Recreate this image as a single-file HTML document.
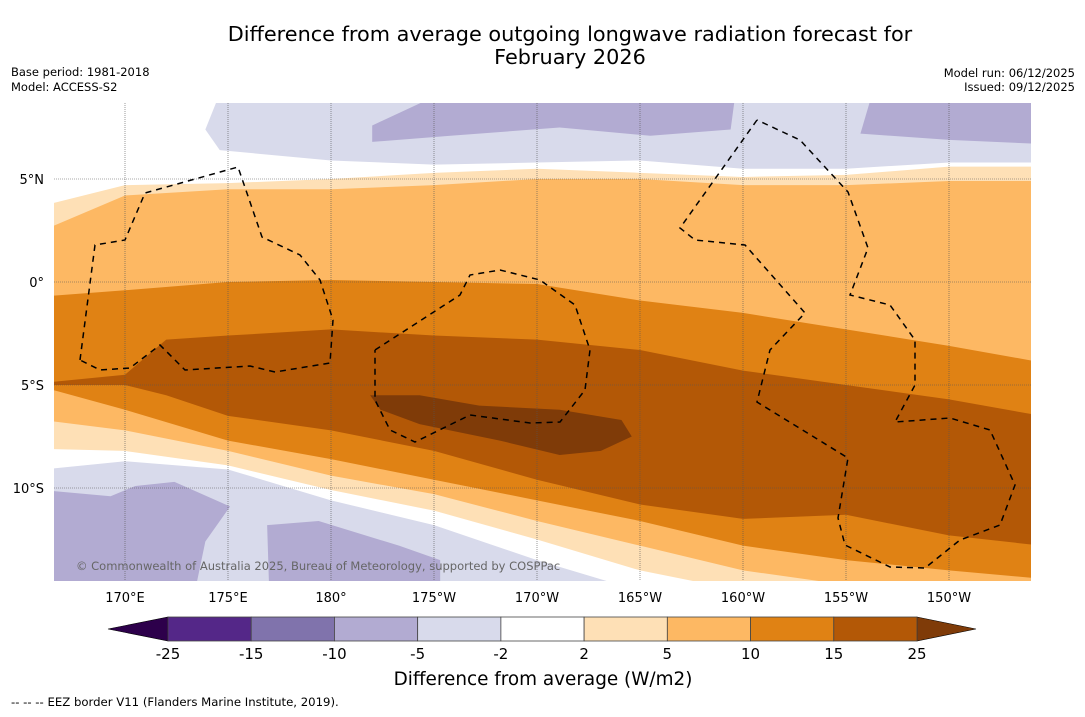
<!DOCTYPE html>
<html><head><meta charset="utf-8">
<style>
body{margin:0;background:#fff;width:1085px;height:713px;overflow:hidden;font-family:"DejaVu Sans","Liberation Sans",sans-serif;}
svg text{font-family:"DejaVu Sans","Liberation Sans",sans-serif;}
</style></head><body>
<svg id="chart" width="1085" height="713" xmlns="http://www.w3.org/2000/svg">
<text x="570" y="41" font-size="20.8" text-anchor="middle">Difference from average outgoing longwave radiation forecast for</text>
<text x="570" y="64" font-size="20.8" text-anchor="middle">February 2026</text>
<text x="11" y="76" font-size="11.5">Base period: 1981-2018</text>
<text x="11" y="91" font-size="11.5">Model: ACCESS-S2</text>
<text x="1075" y="77" font-size="11.5" text-anchor="end">Model run: 06/12/2025</text>
<text x="1075" y="91" font-size="11.5" text-anchor="end">Issued: 09/12/2025</text>
<defs><clipPath id="plotclip"><rect x="54" y="103" width="977" height="478"/></clipPath></defs>
<g id="plot" clip-path="url(#plotclip)">
<rect x="54" y="103" width="977" height="478" fill="#fff"/>
</g>
<g id="grid"></g>
<g id="eez" clip-path="url(#plotclip)" fill="none" stroke="#000" stroke-width="1.5" stroke-dasharray="6,5"></g>
<text x="76" y="570" font-size="11.5" fill="#666">© Commonwealth of Australia 2025, Bureau of Meteorology, supported by COSPPac</text>
<g id="xaxis"></g>
<g id="yaxis"></g>
<g id="cbar"></g>
<text x="543" y="685" font-size="18.4" text-anchor="middle">Difference from average (W/m2)</text>
<text x="11" y="706" font-size="11.7">--  --  -- EEZ border V11 (Flanders Marine Institute, 2019).</text>
</svg>
<script>
const lons = [166.5,170,175,180,185,190,195,200,205,210,214];
const lonsB = [166.5,170,172,175,180,185,190,195,200,205,210,214];
const lonsTop = [174.6,180,185,190,195,200,205,210,214];
const lavTopBottom = [6.4,5.9,5.7,5.8,5.9,5.5,5.5,5.8,5.8];
const peachTop = [3.7,4.7,4.8,5.0,5.3,5.5,5.3,5.1,5.2,5.6,5.6];
const orangeTop = [2.5,4.2,4.5,4.5,4.7,5.0,5.0,4.7,4.7,4.9,4.9];
const darkTop = [-0.7,-0.4,0,0.1,0,-0.1,-0.9,-1.5,-2.3,-3.1,-3.9];
const brownTop = [-4.9,-4.5,-2.8,-2.6,-2.3,-2.6,-2.8,-3.3,-4.3,-5.0,-5.7,-6.5];
const brownBottom = [-5.0,-5.0,-5.5,-6.5,-7.2,-8.2,-9.6,-10.8,-11.5,-11.3,-12.3,-12.8];
const darkBottom = [-5.1,-6.2,-7.7,-8.6,-9.6,-10.6,-11.6,-12.8,-13.5,-14.0,-14.4];
const orangeBottom = [-6.7,-7.2,-8.2,-9.4,-10.3,-11.6,-12.8,-14.0,-14.7,-15,-15];
const peachBottom = [-8.1,-8.2,-8.9,-10.1,-11.1,-12.5,-14.0,-15,-15,-15,-15];
const lavBottomTop = [-9.1,-8.7,-9.1,-10.6,-11.8,-13.5,-15,-15,-15,-15,-15];
const deepBlob = [[181.9,-5.5],[182.4,-6.2],[184.3,-6.9],[188.2,-7.7],[191.1,-8.4],[193.1,-8.2],[194.6,-7.5],[194.1,-6.7],[191.1,-6.2],[187.2,-6.0],[184.3,-5.5]];
const lavDarkA = [[182.0,7.6],[184.8,8.9],[199.6,8.9],[199.4,7.4],[195.5,7.1],[191.1,7.5],[185.8,7.1],[182.0,6.8]];
const lavDarkB = [[206.2,8.9],[214.5,8.9],[214.5,6.7],[210.0,6.9],[205.7,7.2]];
const lavDarkC = [[166.0,-10.1],[169.3,-10.4],[170.5,-9.9],[172.4,-9.7],[175.1,-10.9],[173.9,-12.6],[173.4,-15],[166.0,-15]];
const lavDarkD = [[176.9,-11.8],[179.4,-11.6],[183.3,-12.8],[185.3,-13.5],[185.3,-15],[177.0,-15]];
const xTicks = [170,175,180,185,190,195,200,205,210];
const xTickLabels = ["170°E","175°E","180°","175°W","170°W","165°W","160°W","155°W","150°W"];
const yTicks = [5,0,-5,-10];
const yTickLabels = ["5°N","0°","5°S","10°S"];
const levels = ["-25","-15","-10","-5","-2","2","5","10","15","25"];
const levelColors = ["#542788","#8073ac","#b2abd2","#d8daeb","#ffffff","#fee0b6","#fdb863","#e08214","#b35806"];

const NS="http://www.w3.org/2000/svg";
const X = lon => 125 + (lon-170)*20.6;
const Y = lat => 282 - lat*20.6;
function mk(tag, attrs, parent){const e=document.createElementNS(NS,tag);for(const k in attrs)e.setAttribute(k,attrs[k]);parent.appendChild(e);return e;}
const plot=document.getElementById('plot');
function band(lx, top, bot, color, name, lxb){
  lxb = lxb||lx;
  let pts = lx.map((l,i)=>X(l)+','+Y(top[i]));
  for(let i=lxb.length-1;i>=0;i--) pts.push(X(lxb[i])+','+Y(bot[i]));
  const p=mk('polygon',{points:pts.join(' '),fill:color},plot);
  
  
}
function poly(arr,color,name){
  const p=mk('polygon',{points:arr.map(a=>X(a[0])+','+Y(a[1])).join(' '),fill:color},plot);
  
  
}
{
  let pts=[[174.5,8.9],[214.5,8.9]];
  const arr=pts.concat(lonsTop.slice().reverse().map((l,i)=>[l,lavTopBottom[lavTopBottom.length-1-i]])).concat([[173.9,7.4]]);
  arr[2][0]=214.5;
  poly(arr,"#d8daeb","band-minus5-minus2-north");
}
poly(lavDarkA,"#b2abd2","band-minus10-minus5-a");
poly(lavDarkB,"#b2abd2","band-minus10-minus5-b");
{
  const top=lavBottomTop; const bot=lons.map(()=>-15);
  const lx=lons.slice(); lx[0]=166; lx[lx.length-1]=214.5;
  band(lx,top,bot,"#d8daeb","band-minus5-minus2-south");
}
poly(lavDarkC,"#b2abd2","band-minus10-minus5-c");
poly(lavDarkD,"#b2abd2","band-minus10-minus5-d");
const lxw=lons.slice(); lxw[0]=166; lxw[lxw.length-1]=214.5;
const lxbw=lonsB.slice(); lxbw[0]=166; lxbw[lxbw.length-1]=214.5;
band(lxw,peachTop,peachBottom,"#fee0b6","band-2-5");
band(lxw,orangeTop,orangeBottom,"#fdb863","band-5-10");
band(lxw,darkTop,darkBottom,"#e08214","band-10-15");
band(lxbw,brownTop,brownBottom,"#b35806","band-15-25");
poly(deepBlob,"#7f3b08","band-above-25");

const grid=document.getElementById('grid');
xTicks.forEach((t,i)=>{
  const l=mk('line',{x1:X(t),x2:X(t),y1:103,y2:581,stroke:"#555","stroke-width":0.6,"stroke-dasharray":"1,1"},grid);
  
  
  const tx=mk('text',{x:X(t),y:602,"font-size":13,"text-anchor":"middle"},document.getElementById('xaxis'));
  tx.textContent=xTickLabels[i];
  
  
});
yTicks.forEach((t,i)=>{
  const l=mk('line',{x1:54,x2:1031,y1:Y(t),y2:Y(t),stroke:"#555","stroke-width":0.6,"stroke-dasharray":"1,1"},grid);
  
  
  const tx=mk('text',{x:44,y:Y(t)+5,"font-size":13,"text-anchor":"end"},document.getElementById('yaxis'));
  tx.textContent=yTickLabels[i];
  
  
});
const eez=document.getElementById('eez');
const eezLines=[
 "80,360 95,245 125,240 145,193 238,167 262,237 300,255 320,280 333,320 330,363 275,372 250,366 185,370 160,345 130,368 100,370 80,360",
 "375,350 460,295 470,275 500,270 540,280 575,305 590,350 585,390 560,422 530,423 470,415 415,442 390,430 375,400 375,350",
 "757,120 680,228 695,240 745,245 805,313 770,350 757,402 848,458 838,518 845,545 890,567 925,568 960,540 1000,525 1015,485 990,430 950,418 895,422 915,385 915,340 890,305 850,295 868,248 848,192 800,140 757,120"];
eezLines.forEach(p=>{const e=mk('polyline',{points:p},eez);
  
  });
const cb=document.getElementById('cbar');
const bw=(917-168)/9;
const lt=mk('polygon',{points:"108,629 168,617 168,641",fill:"#2d004b",stroke:"#000","stroke-width":0.6},cb);


const rt=mk('polygon',{points:"917,617 976,629 917,641",fill:"#7f3b08",stroke:"#000","stroke-width":0.6},cb);


levelColors.forEach((c,i)=>{
  const r=mk('rect',{x:168+i*bw,y:617,width:bw,height:24,fill:c,stroke:"#444","stroke-width":0.8},cb);
  
  
});
levels.forEach((v,i)=>{
  const t=mk('text',{x:168+i*bw,y:659,"font-size":15,"text-anchor":"middle"},cb);
  t.textContent=v;
  
  
});
</script>
</body></html>
